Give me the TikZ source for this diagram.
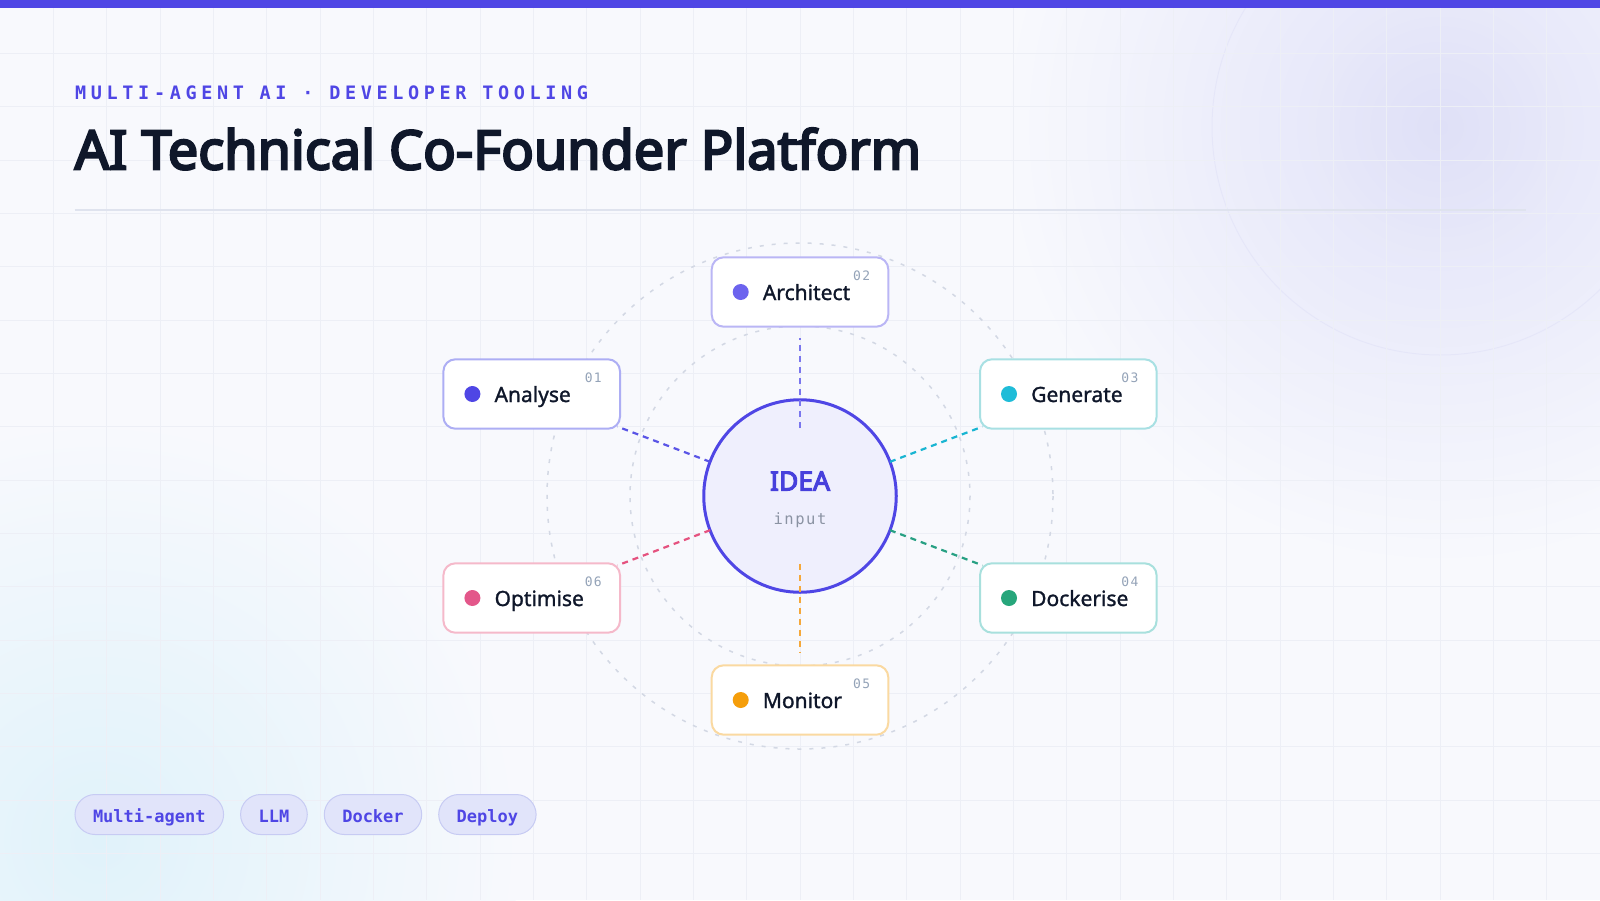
\documentclass[tikz,border=0pt]{standalone}
\usepackage{fontspec}
\setmainfont{Noto Sans}
\newfontfamily\monof{DejaVu Sans Mono}
\newfontfamily\monols{DejaVu Sans Mono}[LetterSpace=25]
\newfontfamily\monoin{DejaVu Sans Mono}[LetterSpace=10]
\newfontfamily\semib{Noto Sans}[FakeBold=1.3]
\newfontfamily\heavyf{Noto Sans}[FakeBold=4.2]
\usetikzlibrary{calc}

\definecolor{bg}{HTML}{F8F9FD}
\definecolor{indigo}{HTML}{4F46E5}
\definecolor{ink}{HTML}{0F172A}
\definecolor{gridc}{HTML}{EDEFF6}
\definecolor{sepc}{HTML}{DFE3EE}
\definecolor{orbitc}{HTML}{D3D8E4}
\definecolor{ideafill}{HTML}{EFEFFD}
\definecolor{ideaT}{HTML}{4740DC}
\definecolor{numc}{HTML}{94A3B8}
\definecolor{inputc}{HTML}{8B93A3}
\definecolor{pillF}{HTML}{E1E4FA}
\definecolor{pillB}{HTML}{C7CBF3}
\definecolor{glowA}{HTML}{E1E2F8}
\definecolor{glowB}{HTML}{E0F2FA}
\definecolor{ringc}{HTML}{DFE0F7}
% agents
\definecolor{anD}{HTML}{4F46E5}\definecolor{anB}{HTML}{ADAEF4}\definecolor{anL}{HTML}{5A55E6}
\definecolor{arD}{HTML}{6C63EE}\definecolor{arB}{HTML}{BAB6F5}\definecolor{arL}{HTML}{7A76EE}
\definecolor{geD}{HTML}{1FBCD8}\definecolor{geB}{HTML}{A8E0E3}\definecolor{geL}{HTML}{19B5D2}
\definecolor{dkD}{HTML}{27A67B}\definecolor{dkB}{HTML}{A8E0DD}\definecolor{dkL}{HTML}{27A083}
\definecolor{moD}{HTML}{F59E0B}\definecolor{moB}{HTML}{FAD9A1}\definecolor{moL}{HTML}{F5A83A}
\definecolor{opD}{HTML}{E3578A}\definecolor{opB}{HTML}{F5B9CA}\definecolor{opL}{HTML}{E5527F}

\tikzset{
  agent/.style={draw=#1, line width=2pt, fill=white, rounded corners=12pt,
    minimum width=176.6pt, minimum height=69.4pt, inner sep=0pt},
  agentdot/.style={circle, fill=#1, minimum size=16pt, inner sep=0pt},
  lbl/.style={anchor=base west, inner sep=0pt, text=ink, font=\semib\fontsize{21}{24}\selectfont},
  num/.style={anchor=base east, inner sep=0pt, text=numc, font=\monoin\fontsize{13}{14}\selectfont},
  link/.style={draw=#1, line width=2.2pt, dash pattern=on 6pt off 5pt},
  orbit/.style={draw=orbitc, line width=1.5pt, dash pattern=on 4pt off 8pt},
  pill/.style={draw=pillB, line width=1pt, fill=pillF, rounded corners=20pt,
    minimum height=40pt, inner xsep=18pt, inner ysep=0pt, text height=15.6pt, text depth=0pt,
    text=indigo, font=\monof\bfseries\fontsize{17}{18}\selectfont},
}

\newcommand\agentparts[4]{%
  \node[agentdot=#2] (#1-d) at ([xshift=30pt]#1.west) {};
  \node[lbl] (#1-l) at ([xshift=52pt,yshift=-8pt]#1.west) {#3};
  \node[num] (#1-n) at ([xshift=-19pt,yshift=-24.4pt]#1.north east) {#4};
}

\begin{document}
\begin{tikzpicture}[x=1pt,y=-1pt]
\useasboundingbox (0,0) rectangle (1600,900);
\begin{scope}
\clip (0,0) rectangle (1600,900);
\fill[bg] (0,0) rectangle (1600,900);
\shade[inner color=glowA, outer color=bg] (1440,127) circle (440);
\shade[inner color=ringc, outer color=glowA!78!bg] (1440,127) circle (110);
\draw[ringc, line width=1pt, opacity=0.5] (1440,127) circle (228);
\shade[inner color=glowB, outer color=bg] (100,840) circle (420);
\foreach \i in {1,...,29} \draw[gridc, line width=1pt] (\i*53.3333,0) -- (\i*53.3333,900);
\foreach \i in {1,...,16} \draw[gridc, line width=1pt] (0,\i*53.3333) -- (1600,\i*53.3333);
\end{scope}

% top bar
\fill[indigo] (0,0) rectangle (1600,7.5);

% header
\node[anchor=base west, inner sep=0pt, text=indigo, font=\monols\bfseries\fontsize{18.5}{20}\selectfont] (sub) at (75,99.3) {MULTI-AGENT AI · DEVELOPER TOOLING};
\node[anchor=base west, inner sep=0pt, text=ink, font=\heavyf\fontsize{54}{60}\selectfont] (title) at (74.5,169.3) {AI Technical Co-Founder Platform};
\coordinate (s1) at (74.5,210);
\coordinate (s2) at (1525.5,210);
\draw[sepc, line width=2pt] (s1) -- (s2);

% orbits
\coordinate (c) at (800,496);
\draw[orbit] (c) circle (253);
\draw[orbit] (c) circle (170);

% agents
\node[agent=anB] (an) at (531.7,394) {};
\node[agent=arB] (ar) at (800,292) {};
\node[agent=geB] (ge) at (1068.3,394) {};
\node[agent=dkB] (dk) at (1068.3,598) {};
\node[agent=moB] (mo) at (800,700) {};
\node[agent=opB] (op) at (531.7,598) {};
\agentparts{an}{anD}{Analyse}{01}
\agentparts{ar}{arD}{Architect}{02}
\agentparts{ge}{geD}{Generate}{03}
\agentparts{dk}{dkD}{Dockerise}{04}
\agentparts{mo}{moD}{Monitor}{05}
\agentparts{op}{opD}{Optimise}{06}

% centre
\node[circle, draw=indigo, line width=3pt, fill=ideafill, minimum size=192.5pt, inner sep=0pt] (idea) at (c) {};
\node[anchor=base, inner sep=0pt, text=ideaT, font=\heavyf\fontsize{26.5}{28}\selectfont] (ideat) at (800,490.5) {IDEA};
\node[anchor=base, inner sep=0pt, text=inputc, font=\monoin\fontsize{15.5}{16}\selectfont] (inp) at (800,524) {input};

% links
\draw[link=anL] ($(c)!0.335!(an)$) -- ($(c)!0.68!(an)$);
\draw[link=arL] ($(c)!0.333!(ar)$) -- ($(c)!0.775!(ar)$);
\draw[link=geL] ($(c)!0.335!(ge)$) -- ($(c)!0.68!(ge)$);
\draw[link=dkL] ($(c)!0.335!(dk)$) -- ($(c)!0.68!(dk)$);
\draw[link=moL] ($(c)!0.333!(mo)$) -- ($(c)!0.765!(mo)$);
\draw[link=opL] ($(c)!0.335!(op)$) -- ($(c)!0.68!(op)$);

% pills
\node[pill, anchor=west] (p1) at (74.5,814.5) {Multi-agent};
\node[pill, anchor=west] (p2) at ([xshift=16pt]p1.east) {LLM};
\node[pill, anchor=west] (p3) at ([xshift=16pt]p2.east) {Docker};
\node[pill, anchor=west] (p4) at ([xshift=16pt]p3.east) {Deploy};
\end{tikzpicture}
\end{document}
